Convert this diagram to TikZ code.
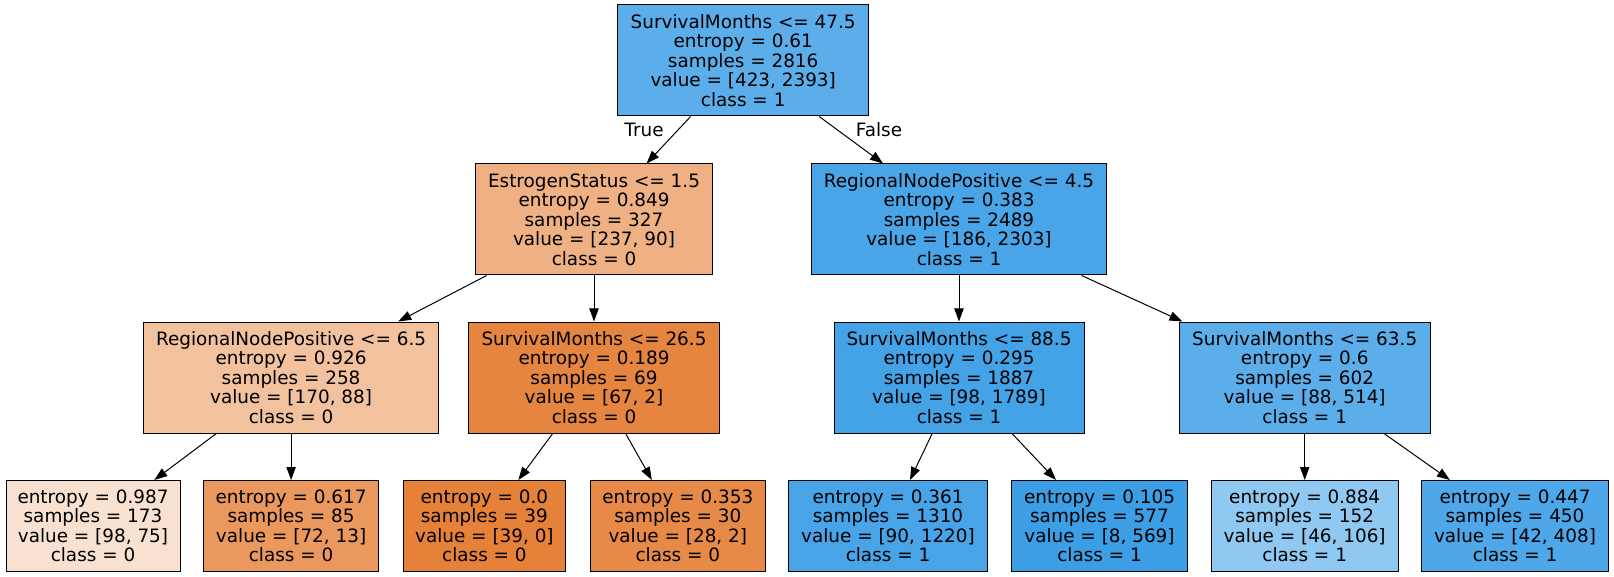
\documentclass[tikz,border=0pt]{standalone}
\usepackage{fontspec}
\setmainfont{DejaVu Sans}
\usetikzlibrary{arrows.meta}

% class 0 (orange) and class 1 (blue) shades, by purity
\definecolor{cRoot}{RGB}{92,174,234}
\definecolor{cEst}{RGB}{239,177,132}
\definecolor{cRnpA}{RGB}{73,165,231}
\definecolor{cRnpB}{RGB}{242,194,159}
\definecolor{cSmA}{RGB}{230,133,63}
\definecolor{cSmB}{RGB}{68,162,230}
\definecolor{cSmC}{RGB}{91,174,233}
\definecolor{cLa}{RGB}{249,225,209}
\definecolor{cLb}{RGB}{234,152,93}
\definecolor{cLc}{RGB}{229,129,57}
\definecolor{cLd}{RGB}{231,138,71}
\definecolor{cLe}{RGB}{72,164,231}
\definecolor{cLf}{RGB}{60,158,229}
\definecolor{cLg}{RGB}{143,200,240}
\definecolor{cLh}{RGB}{77,167,232}

\begin{document}
\begin{tikzpicture}[x=1pt,y=-1pt,
  tn/.style={draw=black, line width=1pt, rectangle, align=center,
    inner sep=0pt, font=\fontsize{18.4}{19.5}\selectfont, minimum height=111pt},
  leaf/.style={tn, minimum height=91pt},
  lbl/.style={font=\fontsize{18.4}{19.5}\selectfont, inner sep=0pt},
  edge/.style={line width=1pt, -{Triangle[length=13pt,width=9.3pt]}},
]
\useasboundingbox (0,0) rectangle (1614,577);

% level 0
\node[tn, fill=cRoot, minimum width=251pt] (root) at (743.2,60.5)
  {SurvivalMonths <= 47.5\\entropy = 0.61\\samples = 2816\\value = [423, 2393]\\class = 1};

% level 1
\node[tn, fill=cEst, minimum width=237.5pt] (est) at (594,219.5)
  {EstrogenStatus <= 1.5\\entropy = 0.849\\samples = 327\\value = [237, 90]\\class = 0};
\node[tn, fill=cRnpA, minimum width=295pt] (rnpa) at (959,219.5)
  {RegionalNodePositive <= 4.5\\entropy = 0.383\\samples = 2489\\value = [186, 2303]\\class = 1};

% level 2
\node[tn, fill=cRnpB, minimum width=295pt] (rnpb) at (291.1,377.5)
  {RegionalNodePositive <= 6.5\\entropy = 0.926\\samples = 258\\value = [170, 88]\\class = 0};
\node[tn, fill=cSmA, minimum width=251pt] (sma) at (594,377.5)
  {SurvivalMonths <= 26.5\\entropy = 0.189\\samples = 69\\value = [67, 2]\\class = 0};
\node[tn, fill=cSmB, minimum width=250pt] (smb) at (959,377.5)
  {SurvivalMonths <= 88.5\\entropy = 0.295\\samples = 1887\\value = [98, 1789]\\class = 1};
\node[tn, fill=cSmC, minimum width=250.6pt] (smc) at (1304.7,377.5)
  {SurvivalMonths <= 63.5\\entropy = 0.6\\samples = 602\\value = [88, 514]\\class = 1};

% leaves
\node[leaf, fill=cLa, minimum width=174pt] (la) at (93,526)
  {entropy = 0.987\\samples = 173\\value = [98, 75]\\class = 0};
\node[leaf, fill=cLb, minimum width=174.6pt] (lb) at (291.1,526)
  {entropy = 0.617\\samples = 85\\value = [72, 13]\\class = 0};
\node[leaf, fill=cLc, minimum width=162.8pt] (lc) at (484.4,526)
  {entropy = 0.0\\samples = 39\\value = [39, 0]\\class = 0};
\node[leaf, fill=cLd, minimum width=175pt] (ld) at (677.8,526)
  {entropy = 0.353\\samples = 30\\value = [28, 2]\\class = 0};
\node[leaf, fill=cLe, minimum width=199pt] (le) at (888,526)
  {entropy = 0.361\\samples = 1310\\value = [90, 1220]\\class = 1};
\node[leaf, fill=cLf, minimum width=176pt] (lf) at (1099.5,526)
  {entropy = 0.105\\samples = 577\\value = [8, 569]\\class = 1};
\node[leaf, fill=cLg, minimum width=187pt] (lg) at (1304.7,526)
  {entropy = 0.884\\samples = 152\\value = [46, 106]\\class = 1};
\node[leaf, fill=cLh, minimum width=187pt] (lh) at (1515,526)
  {entropy = 0.447\\samples = 450\\value = [42, 408]\\class = 1};

% edges
\draw[edge] (root) -- (est);
\draw[edge] (root) -- (rnpa);
\draw[edge] (est) -- (rnpb);
\draw[edge] (est) -- (sma);
\draw[edge] (rnpa) -- (smb);
\draw[edge] (rnpa) -- (smc);
\draw[edge] (rnpb) -- (la);
\draw[edge] (rnpb) -- (lb);
\draw[edge] (sma) -- (lc);
\draw[edge] (sma) -- (ld);
\draw[edge] (smb) -- (le);
\draw[edge] (smb) -- (lf);
\draw[edge] (smc) -- (lg);
\draw[edge] (smc) -- (lh);

% branch labels
\node[lbl] (ltrue) at (644,130) {True};
\node[lbl] (lfalse) at (879,130) {False};
\end{tikzpicture}
\end{document}
